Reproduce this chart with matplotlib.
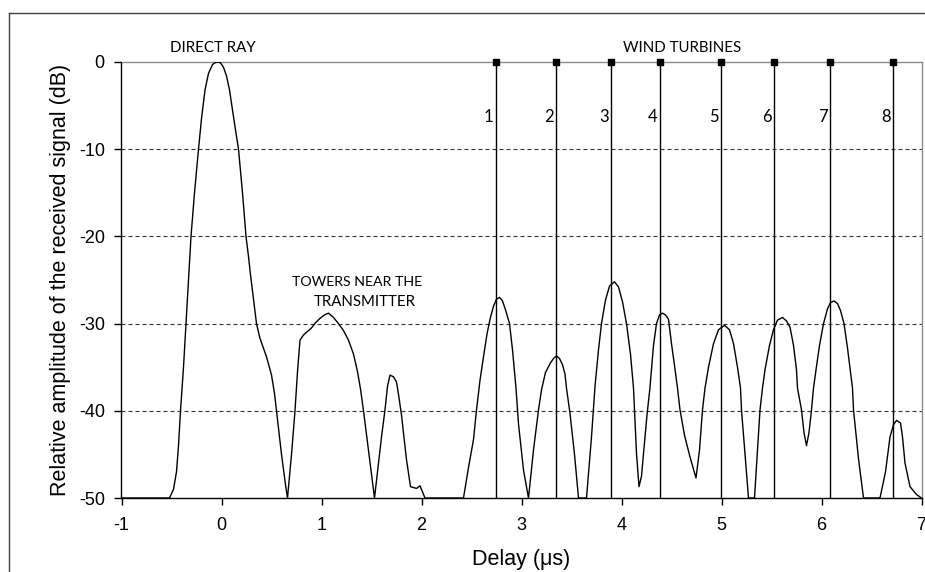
import matplotlib
matplotlib.use("Agg")
import matplotlib.pyplot as plt
from matplotlib.lines import Line2D

# ---- data ----
delay_us = [
    -1.00, -0.52, -0.48, -0.45, -0.43, -0.41, -0.38, -0.355, -0.33, -0.305,
    -0.27, -0.23, -0.20, -0.165, -0.13, -0.09, -0.06, -0.035, -0.01, 0.02,
    0.05, 0.08, 0.11, 0.14, 0.17, 0.21, 0.245, 0.27, 0.29, 0.32,
    0.35, 0.385, 0.45, 0.50, 0.53, 0.55, 0.60, 0.64, 0.66,
    0.70, 0.735, 0.76, 0.785, 0.82, 0.86, 0.90, 0.94, 0.985, 1.03,
    1.07, 1.12, 1.17, 1.22, 1.27, 1.32, 1.36, 1.39, 1.42, 1.47,
    1.53, 1.57, 1.60, 1.635, 1.66, 1.685, 1.72, 1.75, 1.775, 1.80,
    1.85, 1.89, 1.95, 1.985, 2.035, 2.42,
    2.47, 2.52, 2.55, 2.585, 2.62, 2.655, 2.685, 2.72, 2.75, 2.78,
    2.81, 2.845, 2.88, 2.91, 2.945, 2.97, 3.02, 3.07,
    3.12, 3.17, 3.20, 3.24, 3.29, 3.32, 3.35, 3.38, 3.41, 3.435,
    3.45, 3.485, 3.53, 3.57, 3.65,
    3.70, 3.735, 3.77, 3.80, 3.84, 3.88, 3.93, 3.97, 4.01, 4.05,
    4.09, 4.12, 4.15, 4.175, 4.20, 4.22, 4.255, 4.285,
    4.32, 4.35, 4.38, 4.41, 4.44, 4.47, 4.50, 4.53, 4.56, 4.585,
    4.63, 4.685, 4.745, 4.78, 4.81, 4.835, 4.87,
    4.92, 4.97, 5.03, 5.08, 5.12, 5.16, 5.19, 5.20, 5.235, 5.27, 5.33,
    5.36, 5.385, 5.41, 5.435, 5.48, 5.52, 5.56, 5.61, 5.65, 5.685,
    5.72, 5.75, 5.76, 5.80, 5.825, 5.85, 5.875, 5.90, 5.92, 5.945,
    5.98, 6.02, 6.06, 6.09, 6.125, 6.16, 6.19, 6.225, 6.26, 6.29,
    6.31, 6.32, 6.37, 6.42, 6.585,
    6.64, 6.685, 6.72, 6.75, 6.79, 6.81, 6.835, 6.885, 6.95, 7.00,
]
amplitude_db = [
    -50, -50, -49, -47, -44, -40, -35, -30, -25, -20,
    -15, -10, -6.5, -3.2, -1.3, -0.3, -0.05, 0, -0.1, -0.6,
    -1.6, -3.2, -5.5, -7.8, -10, -15, -20, -22.3, -24.4, -27.2,
    -30, -31.7, -33.8, -35.9, -38, -40, -45, -48.5, -50,
    -45, -40, -35.5, -31.9, -31.3, -30.9, -30.5, -29.9, -29.4, -29.0,
    -28.8, -29.3, -30.0, -30.8, -31.9, -33.5, -35.5, -37.5, -40, -44.5,
    -50, -46, -43, -39.9, -37.2, -35.9, -36.1, -36.7, -38.5, -40.5,
    -45.6, -48.7, -48.9, -48.6, -50, -50,
    -46.5, -43.3, -39.9, -36.5, -33.8, -31.2, -29.5, -28.0, -27.2, -27.0,
    -27.4, -28.6, -30, -33, -37.4, -41.5, -46.8, -50,
    -44.5, -39.9, -37.6, -35.6, -34.5, -34.0, -33.7, -34.0, -34.7, -35.8,
    -37.4, -40.3, -45, -50, -50,
    -43, -37.2, -33, -30, -27.3, -25.7, -25.2, -25.8, -27.5, -30,
    -33.5, -37.4, -44.9, -48.7, -47.5, -44.9, -40.5, -37.3,
    -32.5, -30, -29.0, -28.8, -29.0, -29.5, -32.3, -34.8, -37.4, -39.9,
    -42.8, -45.3, -47.7, -44.5, -39.9, -37.4, -35.0,
    -32.3, -30.7, -30.2, -30.7, -32.3, -35, -37.4, -39.9, -45, -50, -50,
    -44.5, -39.9, -37.4, -35.3, -32.5, -30.7, -29.6, -29.3, -29.7, -30.4,
    -32.5, -35.3, -37.4, -39.9, -42.5, -44.0, -42.5, -39.9, -37.4, -35.3,
    -32.5, -30, -28.3, -27.6, -27.4, -27.7, -28.5, -30, -32.8, -35.5,
    -37.4, -39.9, -45.5, -50, -50,
    -47, -43, -41.6, -41.1, -41.4, -43, -46.0, -48.7, -49.6, -50,
]
turbine_delay_us = [2.74, 3.34, 3.89, 4.38, 4.99, 5.52, 6.08, 6.71]
turbine_labels = ["1", "2", "3", "4", "5", "6", "7", "8"]
x_ticks = [-1, 0, 1, 2, 3, 4, 5, 6, 7]
y_ticks = [0, -10, -20, -30, -40, -50]

plt.rcParams['font.family'] = ['Liberation Sans', 'DejaVu Sans']
ann_font = ['Lato', 'DejaVu Sans']

fig = plt.figure(figsize=(9.25, 5.72), dpi=100)
ax = fig.add_axes([121.5 / 925, 1 - 498 / 572, 800 / 925, 436 / 572])

# outer chart border (partially cropped)
fig.add_artist(Line2D([9 / 925, 1.01], [1 - 12.5 / 572] * 2,
                      transform=fig.transFigure, color='#404040', lw=1.0))
fig.add_artist(Line2D([9 / 925] * 2, [1 - 12.5 / 572, -0.01],
                      transform=fig.transFigure, color='#404040', lw=1.0))

# gridlines
for yv in y_ticks[1:-1]:
    ax.axhline(yv, color='#333333', lw=0.8, ls=(0, (3.6, 2.7)), zorder=1)

# turbine markers
for xv, lab in zip(turbine_delay_us, turbine_labels):
    ax.plot([xv, xv], [0, -50], color='black', lw=1.0, zorder=2,
            solid_capstyle='butt')
    ax.plot([xv], [0], marker='s', ms=5, color='black', zorder=4,
            clip_on=False)
    ax.text(xv - 0.02, -6.27, lab, ha='right', va='center',
            fontsize=12, family=ann_font)

ax.plot(delay_us, amplitude_db, color='black', lw=1.0, zorder=3)

ax.set_xlim(-1, 7)
ax.set_ylim(-50, 0)
ax.set_xticks(x_ticks)
ax.set_xticklabels([str(v) for v in x_ticks])
ax.set_yticks(y_ticks)
ax.set_yticklabels([str(v) for v in y_ticks])
ax.tick_params(axis='both', direction='out', length=5, width=1,
               labelsize=13, colors='black')
ax.tick_params(axis='y', pad=7)
ax.tick_params(axis='x', pad=9)

for s in ['left', 'bottom']:
    ax.spines[s].set_color('black')
    ax.spines[s].set_linewidth(1.0)
for s in ['top', 'right']:
    ax.spines[s].set_color('#8c8c8c')
    ax.spines[s].set_linewidth(1.0)

ax.set_ylabel('Relative amplitude of the received signal (dB)', fontsize=15.5)
ax.set_xlabel('Delay (\u03bcs)', fontsize=15.5)
ax.yaxis.set_label_coords(-0.063, 0.5)
ax.xaxis.set_label_coords(0.5, -0.118)

# annotations
ax.text(-0.09, 1.55, 'DIRECT RAY', ha='center', va='center',
        fontsize=10.8, family=ann_font, clip_on=False)
ax.text(4.61, 1.55, 'WIND TURBINES', ha='center', va='center',
        fontsize=10.8, family=ann_font, clip_on=False)
ax.text(1.355, -25.2, 'TOWERS NEAR THE', ha='center', va='center',
        fontsize=10.2, family=ann_font)
ax.text(1.43, -27.5, 'TRANSMITTER', ha='center', va='center',
        fontsize=10.8, family=ann_font)

fig.savefig('out.png', dpi=100)
